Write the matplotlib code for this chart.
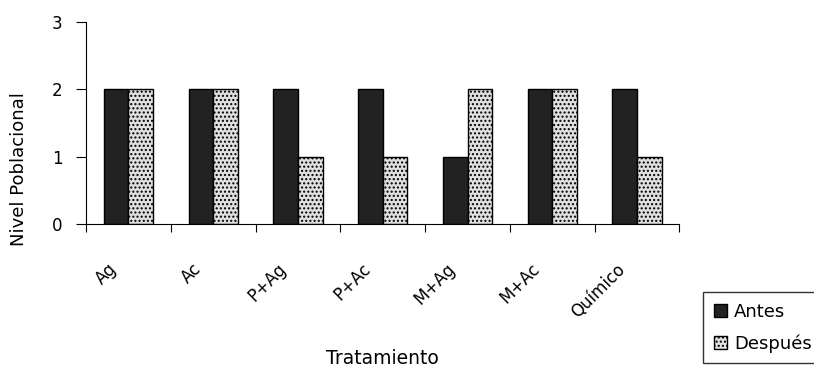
import matplotlib.pyplot as plt
import numpy as np

tratamientos = ["Ag", "Ac", "P+Ag", "P+Ac", "M+Ag", "M+Ac", "Químico"]
antes = [2, 2, 2, 2, 1, 2, 2]
despues = [2, 2, 1, 1, 2, 2, 1]

fig = plt.figure(figsize=(8.14, 3.70), dpi=100)
ax = fig.add_axes([0.1057, 0.3946, 0.7290, 0.5459])

x = np.arange(len(tratamientos)) + 0.5
width = 0.29

ax.bar(x - width / 2, antes, width, color="#222222", edgecolor="black",
       linewidth=1.0, label="Antes")
ax.bar(x + width / 2, despues, width, color="#e0e0e0", edgecolor="black",
       hatch="....", linewidth=1.0, label="Después")

ax.set_xlim(0, len(tratamientos))
ax.set_ylim(0, 3)
ax.set_yticks([0, 1, 2, 3])
ax.tick_params(axis="y", direction="out", length=7, labelsize=12, pad=10)

# boundaries get tick marks, names sit left of the centres
ax.set_xticks(np.arange(len(tratamientos) + 1))
ax.set_xticklabels([])
ax.tick_params(axis="x", which="major", direction="out", length=6)
ax.set_xticks(x - 0.25, minor=True)
ax.set_xticklabels(tratamientos, minor=True, rotation=45, ha="right",
                   va="top", rotation_mode="anchor", fontsize=12)
ax.tick_params(axis="x", which="minor", length=0, pad=26)

ax.spines["top"].set_visible(False)
ax.spines["right"].set_visible(False)

ax.set_xlabel("Tratamiento", fontsize=13.5)
ax.xaxis.set_label_coords(0.5, -0.62)
ax.set_ylabel("Nivel Poblacional", fontsize=13)
ax.yaxis.set_label_coords(-0.098, 0.27)

lgd = ax.legend(loc="lower left", bbox_to_anchor=(1.025, -0.735), fontsize=13,
                frameon=True, fancybox=False, edgecolor="black",
                handlelength=0.7, handleheight=0.7, handletextpad=0.4,
                borderpad=0.6, labelspacing=0.75)
lgd.get_frame().set_linewidth(1.0)

plt.savefig("out.png", dpi=100)
